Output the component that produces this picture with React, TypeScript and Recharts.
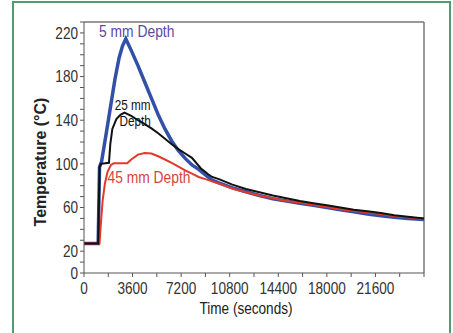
import { LineChart, Line, XAxis, YAxis, ReferenceLine, ReferenceDot, Label } from 'recharts';

// time in seconds, temperature in °C
const depth5Time = [0, 1050, 1150, 1300, 1700, 2000, 2300, 2600, 2850, 3100, 3500, 4000, 4500, 5000, 5500, 6000, 6500, 7000, 7500, 8000, 8500, 9000, 9500, 10000, 11000, 12000, 13000, 14000, 15000, 16000, 17000, 18000, 19000, 20000, 21000, 22000, 23000, 24000, 25200];
const depth5Temp = [27, 27, 97, 102, 132, 155, 178, 197, 208, 214.5, 204, 190, 175, 160, 145, 132, 121, 112, 105, 99, 95, 90, 85, 82.5, 78, 74.5, 71, 68, 66, 64, 62, 60, 58, 56, 54, 52.5, 51, 50, 49];

const depth25Time = [0, 1050, 1150, 1250, 1850, 1950, 2100, 2400, 2700, 3000, 3500, 4000, 4500, 5000, 5500, 6000, 6500, 7000, 7500, 8000, 8650, 9000, 9200, 9500, 10000, 11000, 12000, 13000, 14000, 15000, 16000, 17000, 18000, 19000, 20000, 21000, 22000, 23000, 24000, 25200];
const depth25Temp = [27, 27, 97, 100, 101, 118, 132, 141, 145, 147, 144, 140, 136.5, 132.5, 128, 123, 118, 113.5, 109.5, 105.5, 96, 92.5, 90.5, 88, 86, 81, 77, 74, 71, 68.5, 66, 64, 62, 60, 58, 56.5, 55, 53, 51.5, 50];

const depth45Time = [0, 1150, 1250, 1380, 1550, 1750, 2000, 2200, 3200, 3500, 4000, 4500, 5000, 5500, 6000, 6500, 7000, 7500, 8000, 8500, 9000, 9500, 10000, 11000, 12000, 13000, 14000, 15000, 16000, 17000, 18000, 19000, 20000, 21000, 22000, 23000, 24000, 25200];
const depth45Temp = [27, 27, 45, 66, 82, 93, 99, 100.5, 100.5, 104, 108.5, 110, 109.5, 107, 104, 101, 97.5, 94, 91, 88, 86, 84, 82, 77.5, 74, 71, 68.5, 66, 64.5, 62.5, 60.5, 58.5, 57, 55.5, 54, 52, 51, 49.5];

const xTicks = [0, 1800, 3600, 5400, 7200, 9000, 10800, 12600, 14400, 16200, 18000, 19800, 21600, 23400, 25200];
const yTicks = [0, 10, 20, 30, 40, 50, 60, 70, 80, 90, 100, 110, 120, 130, 140, 150, 160, 170, 180, 190, 200, 210, 220, 230];

const toPoints = (times: number[], temps: number[]) => times.map((t, i) => ({ t, v: temps[i] }));

const sans = '"Liberation Sans", Arial, sans-serif';

// curve labels, lines of each label stacked
const notes = [
  { t: 3906, v: 222, lines: ['5 mm Depth'], color: '#5a4a9e', size: 16.5 },
  { t: 3600, v: 146.5, lines: ['25 mm', 'Depth'], color: '#111', size: 14 },
  { t: 4818, v: 88.2, lines: ['45 mm Depth'], color: '#d8443a', size: 16.5 },
];

// Arial squeezed horizontally, to look like the narrow face of the original
function NarrowText(props: {
  x: number;
  y: number;
  lines: string[];
  size: number;
  fill: string;
  anchor?: 'start' | 'middle' | 'end';
  dy?: number;
  squeeze?: number;
  lineGap?: number;
}) {
  const { x, y, lines, size, fill, anchor = 'middle', dy = 0.355, squeeze = 0.82, lineGap = 16.2 } = props;
  const first = dy * size - ((lines.length - 1) * lineGap) / 2;
  return (
    <g transform={`translate(${x},${y}) scale(${squeeze},1)`}>
      <text x={0} y={0} textAnchor={anchor} fontSize={size} fill={fill} fontFamily={sans}>
        {lines.map((l, i) => (
          <tspan key={i} x={i === 1 ? 3 : 0} y={first + i * lineGap}>
            {l}
          </tspan>
        ))}
      </text>
    </g>
  );
}

const xLabel = (v: number) => (v % 3600 === 0 && v < 25200 ? String(v) : '');
const yLabel = (v: number) => (v === 0 || (v - 20) % 40 === 0 ? String(v) : '');

function XTick(props: any) {
  const { x, y, payload } = props;
  return <NarrowText x={x} y={y} lines={[xLabel(payload.value)]} size={17} fill="#333" dy={0.71} squeeze={0.8} />;
}

function YTick(props: any) {
  const { x, y, payload } = props;
  return <NarrowText x={x} y={y} lines={[yLabel(payload.value)]} size={16} fill="#333" anchor="end" squeeze={0.85} />;
}

export default function App() {
  return (
    <div style={{ position: 'absolute', left: 0, top: 0, width: 453, height: 333, background: '#fff', overflow: 'hidden' }}>
      <div
        style={{
          position: 'absolute',
          left: 12,
          top: 1,
          width: 435,
          height: 345,
          border: '2px solid #4f9d6e',
          borderBottom: 'none',
        }}
      />
      <div style={{ position: 'absolute', left: 0, top: 0 }}>
        <LineChart width={453} height={333} margin={{ top: 22, right: 29, left: 0, bottom: 30 }}>
          <XAxis
            dataKey="t"
            type="number"
            domain={[0, 25200]}
            ticks={xTicks}
            interval={0}
            height={30}
            tickSize={4}
            tickMargin={5}
            stroke="#555"
            tick={<XTick />}
          >
            <Label content={() => <NarrowText x={246} y={308} lines={['Time (seconds)']} size={17} fill="#222" squeeze={0.8} />} />
          </XAxis>
          <YAxis
            type="number"
            domain={[0, 230]}
            ticks={yTicks}
            interval={0}
            width={84}
            tickSize={4}
            tickMargin={2}
            stroke="#555"
            tick={<YTick />}
          >
            <Label
              content={() => (
                <text
                  x={40}
                  y={162}
                  transform="rotate(-90, 40, 162)"
                  textAnchor="middle"
                  dy="0.355em"
                  fontSize={16}
                  fontWeight="bold"
                  fill="#222"
                  fontFamily={sans}
                >
                  Temperature (°C)
                </text>
              )}
            />
          </YAxis>
          <ReferenceLine y={230} stroke="#777" strokeWidth={1.5} />
          <ReferenceLine x={25200} stroke="#777" strokeWidth={1.5} />
          <Line data={toPoints(depth5Time, depth5Temp)} dataKey="v" stroke="#3350a8" strokeWidth={3.5} dot={false} type="linear" isAnimationActive={false} />
          <Line data={toPoints(depth45Time, depth45Temp)} dataKey="v" stroke="#e3392b" strokeWidth={2} dot={false} type="linear" isAnimationActive={false} />
          <Line data={toPoints(depth25Time, depth25Temp)} dataKey="v" stroke="#111" strokeWidth={2} dot={false} type="linear" isAnimationActive={false} />
          {notes.map((n) => (
            <ReferenceDot
              key={n.lines[0]}
              x={n.t}
              y={n.v}
              r={0}
              fill="none"
              stroke="none"
              label={{
                content: (p: any) => (
                  <NarrowText x={p.viewBox.x} y={p.viewBox.y} lines={n.lines} size={n.size} fill={n.color} squeeze={0.84} />
                ),
              }}
            />
          ))}
        </LineChart>
      </div>
    </div>
  );
}
